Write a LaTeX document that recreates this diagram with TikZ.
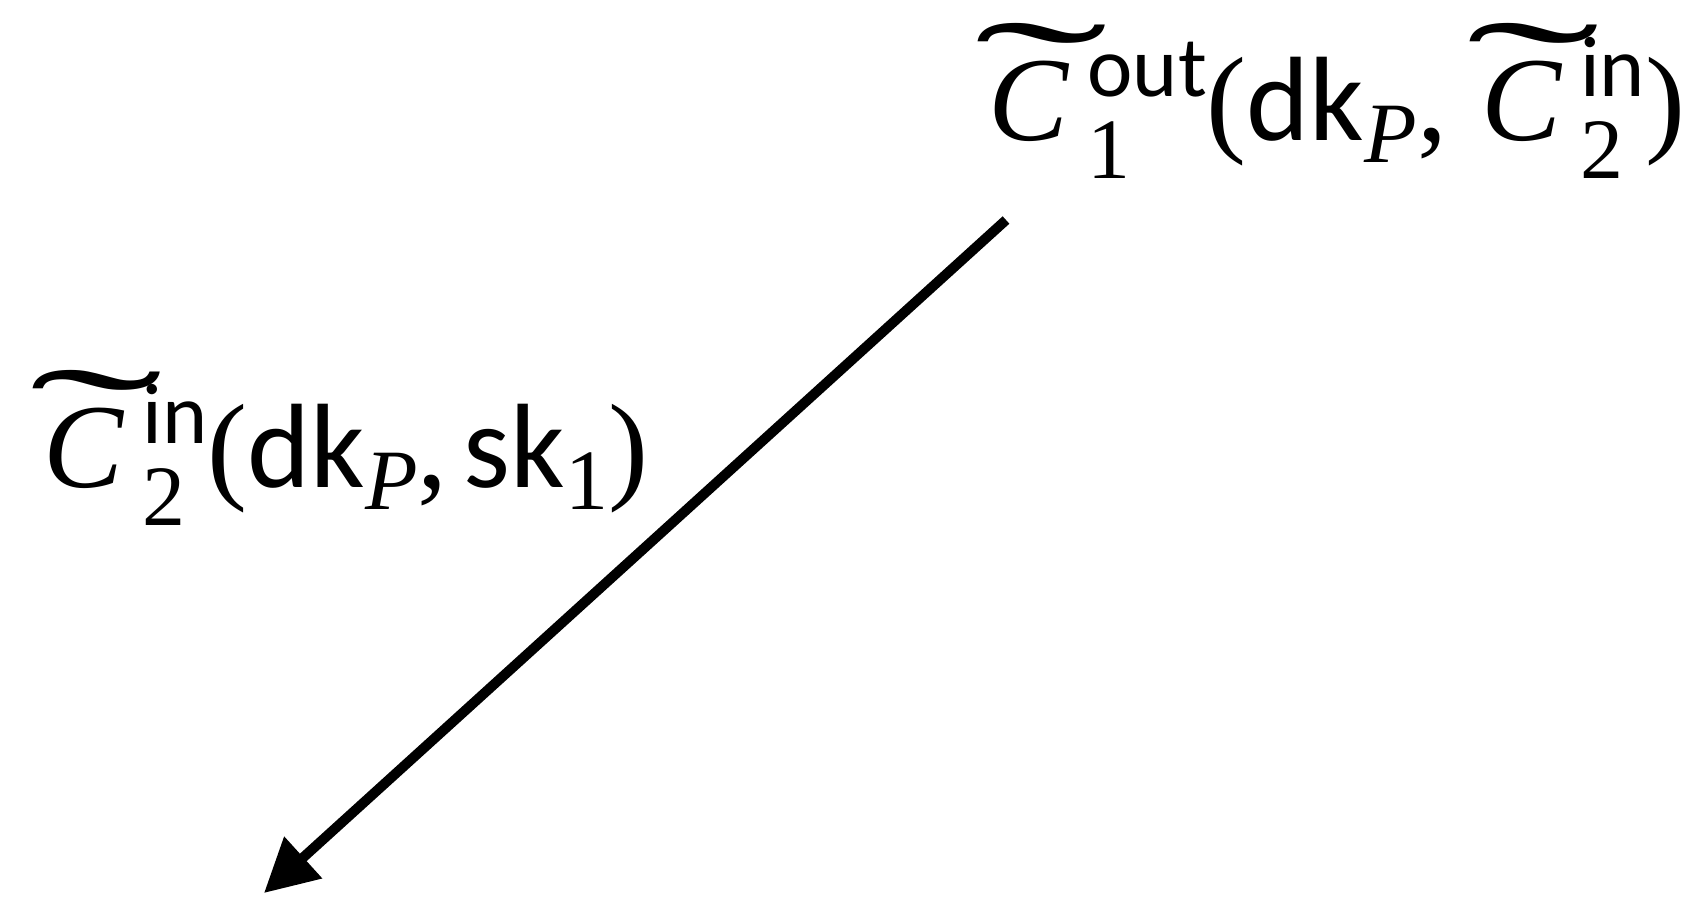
\documentclass[tikz,border=0pt]{standalone}
\usepackage{graphicx}
\usepackage{fontspec}
\setmainfont{Liberation Serif}
\setsansfont{Carlito}
\usetikzlibrary{arrows.meta}
\newcommand\scr{\fontsize{43}{44}\selectfont}
\newcommand\tC{\rlap{\hspace*{-7pt}\raisebox{6pt}{\scalebox{3.35}[1.3]{\char"02DC}}}\textit{C}\hspace*{9pt}}
\newcommand\supsub[2]{\begingroup\setbox0\hbox{\scr\sffamily #1}\setbox2\hbox{\scr #2}%
  \ifdim\wd0>\wd2 \dimen0=\wd0 \else \dimen0=\wd2 \fi
  \rlap{\raisebox{22pt}{\box0}}\rlap{\raisebox{-19pt}{\box2}}\hspace*{\dimen0}\endgroup}
\newcommand\subx[1]{\raisebox{-11pt}{\scr #1}}
\begin{document}
\begin{tikzpicture}[x=0.5pt,y=-0.5pt,
  lbl/.style={anchor=base west,inner sep=0pt,font=\fontsize{60}{66}\selectfont},
  arr/.style={line width=5pt,-{Triangle[length=26.5pt,width=27pt]}}]
\useasboundingbox (0,0) rectangle (1696,896);
\node[lbl] (top) at (988,140) {\tC\supsub{out}{1}({\sffamily dk}\subx{\itshape P},\hspace*{17pt}\tC\supsub{in}{2})};
\node[lbl] (left) at (43,487) {\tC\supsub{in}{2}({\sffamily dk}\subx{\itshape P},\hspace*{8pt}{\sffamily sk}\subx{1})};
\coordinate (s) at (1006,220);
\coordinate (e) at (264,893);
\draw[arr] (s) -- (e);
\end{tikzpicture}
\end{document}
